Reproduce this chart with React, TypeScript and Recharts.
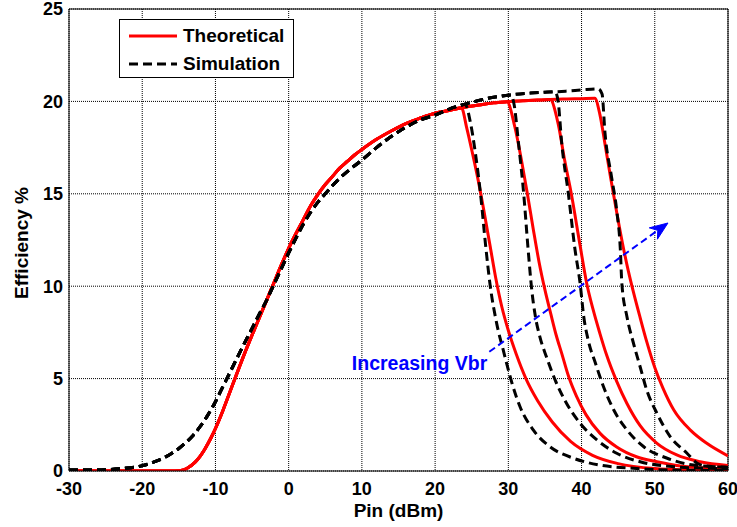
import React from 'react';
import { LineChart, Line, XAxis, YAxis, CartesianGrid, ReferenceLine, Legend } from 'recharts';

type P = [number, number];

// ---------- data ----------
const xTicks = [-30, -20, -10, 0, 10, 20, 30, 40, 50, 60];
const yTicks = [0, 5, 10, 15, 20, 25];
const legendLabels = ['Theoretical', 'Simulation'];
const xLabel = 'Pin (dBm)';
const yLabel = 'Efficiency %';
const annotationText = 'Increasing Vbr';
const arrowFrom = { x: 27.4, y: 6.45 };
const arrowTo = { x: 51.8, y: 13.42 };

// theoretical (red) – common rising part
const theoRise: P[] = [
  [-30, 0], [-25, 0], [-20, 0], [-16, 0.0], [-15, 0.01], [-14.5, 0.04], [-14, 0.12], [-13.5, 0.24],
  [-13, 0.4], [-12.5, 0.6], [-12, 0.85], [-11.5, 1.15], [-11, 1.5], [-10.5, 1.88], [-10, 2.3],
  [-9, 3.25], [-8, 4.3], [-7, 5.35], [-6, 6.38], [-5, 7.35], [-4, 8.3], [-3, 9.25], [-2, 10.2],
  [-1, 11.15], [0, 12.05], [1, 12.85], [2, 13.6], [3, 14.35], [4, 14.97], [5, 15.5], [6, 15.95],
  [7, 16.4], [8, 16.75], [9, 17.1], [10, 17.4], [12, 17.95], [14, 18.4], [16, 18.8], [18, 19.1],
  [20, 19.36], [22, 19.52],
];
const theoFlat: P[] = [
  [24, 19.68], [26, 19.8], [28, 19.92], [29.8, 19.98], [32, 20.03], [34, 20.07], [35.7, 20.1],
  [38, 20.13], [40, 20.15], [41.8, 20.17],
];
const theoDrop1: P[] = [
  [23.6, 19.65], [24.3, 18.6], [25.1, 17.2], [25.9, 15.7], [26.7, 14.0], [27.5, 12.2], [28.3, 10.4],
  [29.1, 8.9], [30.0, 7.6], [31.1, 6.3], [32.4, 5.0], [34.0, 3.8], [36.0, 2.65], [38.5, 1.6],
  [41.5, 0.85], [45, 0.4], [50, 0.13], [55, 0.05], [60, 0.02],
];
const theoDrop2: P[] = [
  [29.8, 19.98], [30.9, 18.6], [31.8, 16.8], [32.6, 15.0], [33.4, 13.1], [34.2, 11.3], [35.0, 9.8],
  [35.8, 8.5], [36.5, 7.4], [37.3, 6.35], [38.2, 5.15], [39.3, 4.05], [40.6, 3.05], [42.5, 2.05],
  [44.8, 1.3], [47.5, 0.77], [50.3, 0.5], [53.5, 0.27], [57.1, 0.15], [60, 0.1],
];
const theoDrop3: P[] = [
  [35.7, 20.1], [36.8, 18.8], [37.7, 16.8], [38.6, 15.0], [39.8, 12.2], [40.7, 10.16], [41.6, 8.7],
  [42.5, 7.45], [43.4, 6.3], [44.8, 4.85], [46.2, 3.65], [48.0, 2.45], [50.3, 1.5], [53.0, 0.87],
  [56.2, 0.5], [60, 0.3],
];
const theoDrop4: P[] = [
  [41.8, 20.17], [42.5, 19.3], [43.2, 17.7], [44.0, 15.8], [44.8, 14.0], [45.6, 12.3], [46.4, 10.8],
  [47.2, 9.5], [48.0, 8.3], [48.9, 7.0], [50.0, 5.6], [51.1, 4.5], [52.6, 3.3], [54.9, 2.2],
  [57.1, 1.5], [60, 0.82],
];

// simulation (black dashed) – common rising part
const simRise: P[] = [
  [-30, 0.05], [-27, 0.05], [-25, 0.07], [-23, 0.12], [-22, 0.16], [-20, 0.29], [-19, 0.4],
  [-18, 0.55], [-17, 0.72], [-16, 0.95], [-15, 1.22], [-14, 1.55], [-13, 1.95], [-12, 2.45],
  [-11, 3.05], [-10, 3.75], [-9, 4.55], [-8, 5.35], [-7, 6.15], [-6, 6.95], [-5, 7.72], [-4, 8.5],
  [-3, 9.25], [-2, 10.1], [-1, 10.95], [0, 11.8], [1, 12.6], [2, 13.35], [3, 14.0], [4, 14.55],
  [5, 15.0], [6, 15.45], [7, 15.85], [8, 16.2], [10, 16.83], [12, 17.5], [14, 18.1], [16, 18.6],
  [18, 19.0], [20, 19.26], [22, 19.6],
];
const simFlat: P[] = [
  [23.6, 19.8], [25, 19.95], [27, 20.15], [29, 20.28], [30.3, 20.35], [33, 20.45], [35, 20.5],
  [36.4, 20.52], [38, 20.56], [40, 20.62], [42.3, 20.68],
];
const simDrop1: P[] = [
  [24.1, 19.85], [24.8, 18.9], [25.5, 17.2], [26.2, 15.0], [26.9, 12.2], [27.5, 10.1], [28.4, 8.0],
  [29.3, 6.55], [30.0, 5.47], [30.5, 4.75], [31.6, 3.48], [33.4, 2.22], [35.7, 1.31], [38.9, 0.69],
  [42.5, 0.32], [47.1, 0.15], [52.6, 0.05], [60, 0.03],
];
const simDrop2: P[] = [
  [30.3, 20.35], [30.8, 19.8], [31.4, 17.7], [32.1, 15.0], [32.7, 12.0], [33.2, 9.8], [33.7, 8.35],
  [34.3, 7.27], [35.2, 6.18], [36.4, 4.92], [37.7, 3.84], [39.8, 2.58], [42.1, 1.68], [44.8, 0.96],
  [48, 0.5], [52.6, 0.23], [57.1, 0.15], [60, 0.12],
];
const simDrop3: P[] = [
  [36.4, 20.52], [36.8, 20.0], [37.3, 17.7], [38.2, 15.0], [39.1, 12.0], [39.8, 10.16], [40.3, 8.35],
  [40.9, 7.09], [41.9, 5.83], [43.0, 4.56], [44.4, 3.3], [46.2, 2.22], [48.5, 1.31], [51.7, 0.69],
  [55.3, 0.32], [60, 0.2],
];
const simDrop4: P[] = [
  [42.3, 20.68], [42.8, 20.4], [43.2, 18.3], [44.1, 15.9], [44.8, 14.1], [45.3, 11.96], [45.5, 10.16],
  [46.2, 8.35], [47.1, 6.9], [48.0, 5.64], [48.9, 4.38], [50.3, 3.12], [52.1, 1.86], [54.4, 0.96],
  [55.8, 0.42], [57.1, 0.27], [60, 0.2],
];

// ---------- build curves ----------
const build = (rise: P[], flat: P[], drop: P[]) => {
  const start = drop[0][0];
  const pts = [
    ...rise.filter((p) => p[0] < start),
    ...flat.filter((p) => p[0] < start),
    ...drop,
  ];
  return pts.map(([x, y]) => ({ x, y }));
};

const theoCurves = [theoDrop1, theoDrop2, theoDrop3, theoDrop4].map((d) => build(theoRise, theoFlat, d));
const simCurves = [simDrop1, simDrop2, simDrop3, simDrop4].map((d) => build(simRise, simFlat, d));

const FONT = '"Liberation Sans", Arial, Helvetica, sans-serif';
const RED = '#ff0000';
const BLUE = '#0000ff';
const DASH = '9 5';

const LegendBox = () => (
  <div
    style={{
      width: 173,
      height: 57,
      border: '1px solid #000',
      background: '#fff',
      position: 'relative',
      fontFamily: FONT,
      fontWeight: 'bold',
      fontSize: 19,
      color: '#000',
    }}
  >
    {legendLabels.map((label, i) => (
      <div
        key={label}
        style={{ position: 'absolute', left: 0, top: i === 0 ? 4 : 32, height: 24, display: 'flex', alignItems: 'center' }}
      >
        <svg width={63} height={24} style={{ display: 'block' }}>
          <line
            x1={9}
            y1={12}
            x2={57}
            y2={12}
            stroke={i === 0 ? RED : '#000'}
            strokeWidth={3}
            strokeDasharray={i === 0 ? undefined : DASH}
          />
        </svg>
        <span style={{ lineHeight: '24px', whiteSpace: 'nowrap' }}>{label}</span>
      </div>
    ))}
  </div>
);

const ArrowShape = (props: any) => {
  const { x1, y1, x2, y2 } = props;
  if ([x1, y1, x2, y2].some((v) => typeof v !== 'number' || isNaN(v))) return <g />;
  const dx = x2 - x1;
  const dy = y2 - y1;
  const len = Math.sqrt(dx * dx + dy * dy);
  const ux = dx / len;
  const uy = dy / len;
  const px = -uy;
  const py = ux;
  const headLen = 18;
  const half = 7;
  const bx = x2 - ux * headLen;
  const by = y2 - uy * headLen;
  const ix = x2 - ux * headLen * 0.7;
  const iy = y2 - uy * headLen * 0.7;
  const head = `${x2},${y2} ${bx + px * half},${by + py * half} ${ix},${iy} ${bx - px * half},${by - py * half}`;
  return (
    <g>
      <line x1={x1} y1={y1} x2={ix} y2={iy} stroke={BLUE} strokeWidth={2} strokeDasharray="7 4" />
      <polygon points={head} fill={BLUE} stroke={BLUE} strokeWidth={1} />
      <text
        x={x1 - 2}
        y={y1 + 18.5}
        textAnchor="end"
        fill={BLUE}
        fontFamily={FONT}
        fontWeight="bold"
        fontSize={19.5}
      >
        {annotationText}
      </text>
    </g>
  );
};

const XLabel = (props: any) => {
  const vb = props.viewBox || {};
  return (
    <text
      x={vb.x + vb.width / 2}
      y={vb.y + 46}
      textAnchor="middle"
      fontFamily={FONT}
      fontWeight="bold"
      fontSize={19}
      fill="#000"
    >
      {xLabel}
    </text>
  );
};

const YLabel = (props: any) => {
  const vb = props.viewBox || {};
  const cx = 28;
  const cy = vb.y + vb.height / 2 + 3;
  return (
    <text
      x={cx}
      y={cy}
      transform={`rotate(-90, ${cx}, ${cy})`}
      textAnchor="middle"
      fontFamily={FONT}
      fontWeight="bold"
      fontSize={19}
      fill="#000"
    >
      {yLabel}
    </text>
  );
};

const tickStyle = { fontFamily: FONT, fontWeight: 'bold' as const, fontSize: 18, fill: '#000' };

export default function App() {
  return (
    <div style={{ position: 'absolute', left: 0, top: 0, background: '#fff' }}>
      <LineChart width={737} height={527} margin={{ top: 9, right: 9, bottom: 0, left: 0 }}>
        <CartesianGrid stroke="#000" strokeDasharray="1 1" strokeWidth={1} />
        <XAxis
          dataKey="x"
          type="number"
          domain={[-30, 60]}
          ticks={xTicks}
          allowDataOverflow
          height={56}
          tickLine={false}
          tickSize={6}
          tickMargin={5}
          axisLine={{ stroke: '#000', strokeWidth: 1 }}
          tick={tickStyle}
          interval={0}
          label={<XLabel />}
        />
        <YAxis
          type="number"
          domain={[0, 25]}
          ticks={yTicks}
          allowDataOverflow
          width={69}
          tickLine={false}
          tickSize={6}
          tickMargin={0}
          axisLine={{ stroke: '#000', strokeWidth: 1 }}
          tick={tickStyle}
          interval={0}
          label={<YLabel />}
        />
        <ReferenceLine y={25} stroke="#000" strokeWidth={1} />
        <ReferenceLine x={60} stroke="#000" strokeWidth={1} />
        {theoCurves.map((d, i) => (
          <Line
            key={`t${i}`}
            data={d}
            dataKey="y"
            type="monotone"
            stroke={RED}
            strokeWidth={3}
            dot={false}
            activeDot={false}
            isAnimationActive={false}
            legendType="none"
          />
        ))}
        {simCurves.map((d, i) => (
          <Line
            key={`s${i}`}
            data={d}
            dataKey="y"
            type="monotone"
            stroke="#000"
            strokeWidth={3}
            strokeDasharray={DASH}
            dot={false}
            activeDot={false}
            isAnimationActive={false}
            legendType="none"
          />
        ))}
        <ReferenceLine
          segment={[arrowFrom, arrowTo]}
          stroke={BLUE}
          ifOverflow="visible"
          shape={(p: any) => <ArrowShape {...p} />}
        />
        <Legend
          layout="vertical"
          align="center"
          verticalAlign="middle"
          content={<LegendBox />}
          wrapperStyle={{ left: 119, top: 19, width: 175, height: 59 }}
        />
      </LineChart>
    </div>
  );
}
